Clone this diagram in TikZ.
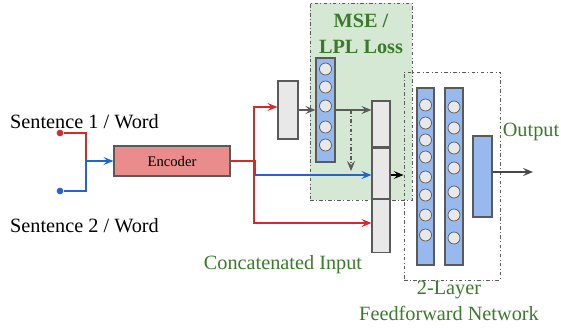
\documentclass[tikz,border=0pt]{standalone}
\usepackage{fontspec}
\setmainfont{Liberation Serif}
\usetikzlibrary{positioning,arrows.meta}
\definecolor{lred}{HTML}{D42A2A}
\definecolor{lblue}{HTML}{2563D0}
\definecolor{encfill}{HTML}{EA8C8C}
\definecolor{colfill}{HTML}{97B9EE}
\definecolor{cellfill}{HTML}{E8E8E8}
\definecolor{lossfill}{HTML}{D5E8D4}
\definecolor{txtgreen}{HTML}{3A7A2A}
\definecolor{edgegray}{HTML}{5A5A5A}

\begin{document}
\begin{tikzpicture}[
  x=0.03cm, y=-0.03cm,
  lbl/.style={font=\fontsize{17.3}{20}\selectfont},
  glbl/.style={lbl,text=txtgreen},
  box/.style={draw=edgegray,line width=0.9pt,inner sep=0pt},
  vec/.style={box,fill=cellfill,minimum width=0.57cm},
  layer/.style={box,fill=colfill},
  cell/.style={circle,draw=edgegray,fill=cellfill,line width=0.6pt,minimum size=0.36cm,inner sep=0pt},
  dot/.style={circle,inner sep=0pt,minimum size=0.2cm},
  frame/.style={draw=edgegray,line width=0.8pt,dash dot},
  arr/.style={-{Stealth[length=3mm,width=2.4mm,inset=1.2mm]},line width=0.9pt}
]
\useasboundingbox (0,0) rectangle (561,329);

% loss region (drawn first, sits behind)
\node[frame,fill=lossfill,minimum width=3.06cm,minimum height=5.91cm] (loss) at (361,101.5) {};
\node[glbl,font=\fontsize{17.3}{22}\selectfont\bfseries,align=center] (losstxt) at (361,34) {MSE /\\LPL Loss};

% inputs
\node[lbl,anchor=west] (s1) at (6,122) {Sentence 1 / Word};
\node[lbl,anchor=west] (s2) at (6,226) {Sentence 2 / Word};
\node[dot,fill=lred] (d1) at (60,133) {};
\node[dot,fill=lblue] (d2) at (60,191) {};
\coordinate (merge) at (86,161);

\node[box,fill=encfill,minimum width=3.48cm,minimum height=0.9cm,font=\fontsize{12.5}{14}\selectfont] (enc) at (172,161) {Encoder};

% split after encoder
\coordinate (rsplit) at (254,161);
\coordinate (bsplit) at (255.5,161);
\coordinate (rtop) at (254,107);
\coordinate (rbot) at (254,223);
\coordinate (bbot) at (255.5,175);

\node[vec,minimum width=0.6cm,minimum height=1.74cm] (proj) at (288,110) {};

\node[layer,minimum width=0.57cm,minimum height=3.12cm] (mse) at (325.5,110) {};
\foreach \yy in {69,87,106,127,145}
  \node[cell] at (325.5,\yy) {};

% concatenated input
\node[vec,minimum width=0.54cm,minimum height=1.38cm] (cat1) at (381,124) {};
\node[vec,minimum width=0.54cm,minimum height=1.5cm,below=0pt of cat1] (cat2) {};
\node[vec,minimum width=0.54cm,minimum height=1.59cm,below=0pt of cat2] (cat3) {};
\coordinate (drop) at (351,110);
\coordinate (dropend) at (351,171);

% feedforward network
\node[frame,minimum width=2.88cm,minimum height=6.24cm] (ffn) at (452,176) {};
\node[layer,minimum width=0.51cm,minimum height=5.31cm] (h1) at (425.5,176.5) {};
\foreach \yy in {105,123,140,157,177,195,215,235}
  \node[cell] at (425.5,\yy) {};
\node[layer,minimum width=0.54cm,minimum height=5.31cm] (h2) at (454,176.5) {};
\foreach \yy in {107,128,148,168,192,215,238}
  \node[cell] at (454,\yy) {};
\node[layer,minimum width=0.57cm,minimum height=2.43cm] (out) at (482.5,176.5) {};
\coordinate (outend) at (533,172);

% labels
\node[glbl] (cattxt) at (283,265) {Concatenated Input};
\node[glbl] (outtxt) at (531,132) {Output};
\node[glbl,align=center,font=\fontsize{17.3}{22}\selectfont] (ffntxt) at (449,301) {2-Layer\\Feedforward Network};

% connectors
\draw[lred,line width=0.9pt] (d1) -| (merge);
\draw[lblue,line width=0.9pt] (d2) -| (merge);
\draw[arr,lblue] (merge) -- (enc);
\draw[lred,line width=0.9pt] (enc.east) -- (rsplit);
\draw[lblue,line width=0.9pt] (rsplit) -- (bsplit);
\draw[arr,lred] (rsplit) -- (rtop) -- (rtop -| proj.west);
\draw[arr,lred] (rsplit) -- (rbot) -- (rbot -| cat3.west);
\draw[arr,lblue] (bsplit) -- (bbot) -- (bbot -| cat2.west);
\path (proj) edge[arr,edgegray] (mse)
(mse.east) edge[arr,edgegray] (mse.east -| cat1.west)
(drop) edge[arr,edgegray,dash dot] (dropend)
(cat2.east |- bbot) edge[arr,black] (ffn.west |- bbot)
;
\draw[arr,edgegray!80!black] (out.east |- outend) -- (outend);

\end{tikzpicture}
\end{document}
